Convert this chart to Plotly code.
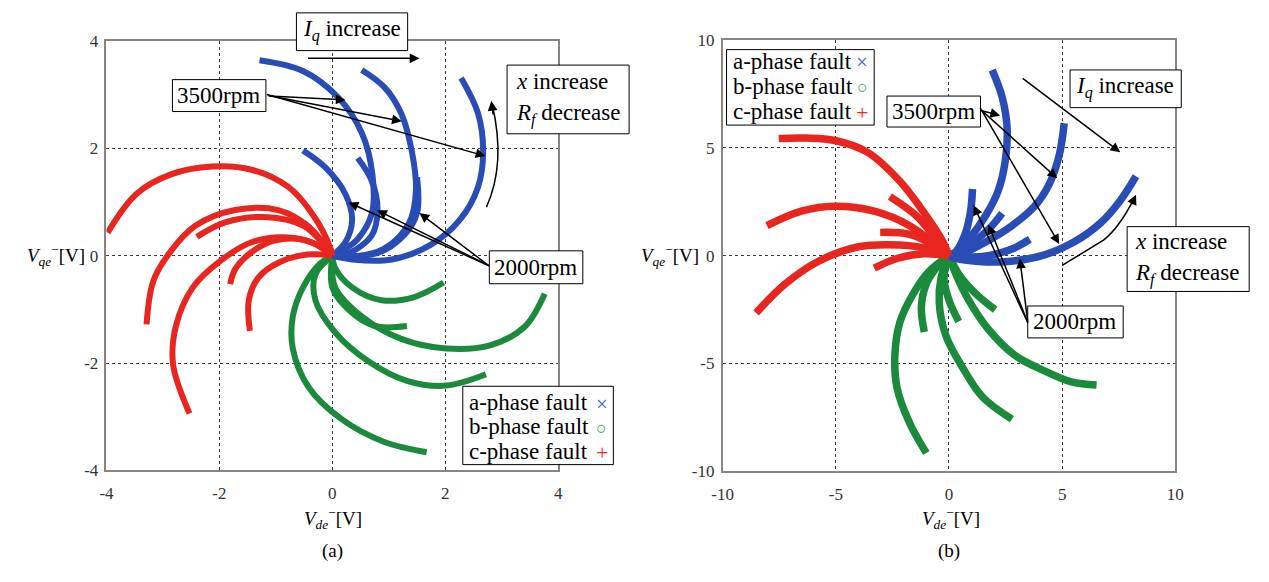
import plotly.graph_objects as go

W, H = 1269, 582

# ---------------- data ----------------
TICKS_L = [-4, -2, 0, 2, 4]
TICKS_R = [-10, -5, 0, 5, 10]
TICKTEXT_L = ["-4", "-2", "0", "2", "4"]
TICKTEXT_R = ["-10", "-5", "0", "5", "10"]
LEGEND_LABELS = ["a-phase fault", "b-phase fault", "c-phase fault"]
LEGEND_GLYPHS = ["×", "○", "+"]

# panel (a): a-phase fault (blue)
A_L_X = [
    [0, 0.23, 0.45, 0.70, 0.71, 0.52, 0.10, -0.52, -1.29],
    [0, 0.35, 0.92, 1.36, 1.48, 1.41, 1.22, 0.92, 0.52],
    [0, 0.35, 1.05, 1.74, 2.26, 2.58, 2.67, 2.58, 2.28],
    [0, 0.23, 0.35, 0.23, -0.12, -0.52],
    [0, 0.30, 0.70, 0.80, 0.70, 0.45],
    [0, 0.80, 1.27, 1.50, 1.50],
]
A_L_Y = [
    [0, 0.13, 0.31, 0.79, 1.51, 2.29, 2.95, 3.44, 3.64],
    [0, -0.02, 0.13, 0.61, 1.21, 1.93, 2.65, 3.14, 3.46],
    [0, -0.07, -0.07, 0.20, 0.67, 1.28, 1.93, 2.65, 3.31],
    [0, 0.25, 0.67, 1.15, 1.64, 1.96],
    [0, 0.05, 0.38, 0.85, 1.39, 1.82],
    [0, 0.05, 0.38, 0.80, 1.46],
]
# panel (a): b-phase fault (green)
B_L_X = [
    [0, -0.24, -0.52, -0.70, -0.70, -0.42, 0.17, 0.92, 1.67],
    [0, -0.30, -0.30, 0.05, 0.63, 1.32, 2.02, 2.72],
    [0, 0.05, 0.52, 1.22, 2.02, 2.79, 3.41, 3.76],
    [0, 0.00, 0.28, 0.75, 1.32],
    [0, 0.05, 0.35, 0.87, 1.45, 1.97],
]
B_L_Y = [
    [0, -0.17, -0.59, -1.13, -1.73, -2.45, -3.05, -3.47, -3.66],
    [0, -0.35, -0.83, -1.43, -1.96, -2.33, -2.42, -2.21],
    [0, -0.59, -1.13, -1.55, -1.73, -1.67, -1.32, -0.71],
    [0, -0.59, -1.00, -1.31, -1.31],
    [0, -0.23, -0.59, -0.83, -0.77, -0.50],
]
# panel (a): c-phase fault (red)
C_L_X = [
    [0, -0.03, -0.33, -0.78, -1.43, -2.13, -2.87, -3.47, -3.98],
    [0, -0.44, -0.96, -1.72, -2.42, -2.87, -3.17, -3.29],
    [0, -0.26, -0.78, -1.43, -2.00, -2.47, -2.77, -2.82, -2.53],
    [0, -0.44, -0.91, -1.31, -1.48, -1.46],
    [0, -0.45, -1.03, -1.45, -1.72, -1.81],
    [0, -0.50, -1.20, -1.90, -2.40],
]
C_L_Y = [
    [0, 0.13, 0.74, 1.28, 1.60, 1.66, 1.51, 1.15, 0.43],
    [0, 0.56, 0.85, 0.85, 0.56, 0.07, -0.47, -1.28],
    [0, 0.20, 0.34, 0.25, -0.11, -0.59, -1.31, -2.03, -2.94],
    [0, 0.02, -0.11, -0.41, -0.83, -1.40],
    [0, 0.28, 0.28, 0.05, -0.25, -0.53],
    [0, 0.55, 0.72, 0.62, 0.35],
]

# panel (b): a-phase fault (blue)
A_R_X = [
    [0, 0.17, 0.87, 1.61, 2.17, 2.48, 2.57, 2.35, 1.91],
    [0, 0.43, 1.61, 2.78, 3.78, 4.43, 4.87, 5.09],
    [0, 0.30, 1.30, 2.61, 4.22, 5.52, 6.70, 7.57, 8.26],
    [0, 0.30, 0.74, 0.96, 1.04],
    [0, 0.87, 1.74, 2.35],
    [0, 1.48, 2.78, 3.57],
]
A_R_Y = [
    [0, 0.04, 0.76, 1.84, 3.00, 4.35, 5.87, 7.35, 8.61],
    [0, 0.04, 0.63, 1.39, 2.29, 3.32, 4.66, 6.14],
    [0, -0.13, -0.27, -0.27, 0.04, 0.63, 1.52, 2.56, 3.68],
    [0, 0.18, 1.08, 2.11, 3.09],
    [0, 0.49, 1.21, 1.97],
    [0, -0.04, 0.31, 0.76],
]
# panel (b): b-phase fault (green)
B_R_X = [
    [0, -0.87, -1.57, -2.17, -2.39, -2.30, -1.74, -1.00],
    [0, -0.35, -0.43, -0.13, 0.61, 1.48, 2.78],
    [0, 0.30, 0.87, 1.74, 2.91, 4.22, 5.40, 6.52],
    [0, -0.50, -1.00, -1.22, -1.09],
    [0, -0.22, 0.00, 0.43],
    [0, 0.43, 1.17, 2.04],
]
B_R_Y = [
    [0, -0.72, -1.75, -3.09, -4.62, -6.10, -7.76, -9.15],
    [0, -1.03, -2.20, -3.72, -5.20, -6.55, -7.58],
    [0, -0.85, -2.06, -3.41, -4.62, -5.34, -5.85, -6.00],
    [0, -0.50, -1.30, -2.38, -3.54],
    [0, -1.03, -2.06, -3.05],
    [0, -0.85, -1.75, -2.51],
]
# panel (b): c-phase fault (red)
C_R_X = [
    [0, -0.26, -1.00, -2.17, -3.61, -5.04, -6.30, -7.52],
    [0, -0.57, -1.74, -3.30, -5.04, -6.52, -8.04],
    [0, -0.70, -2.17, -4.04, -5.78, -7.22, -8.52],
    [0, -0.57, -1.43, -2.61],
    [0, -0.60, -1.74, -3.04],
    [0, -1.13, -2.30, -3.30],
]
C_R_Y = [
    [0, 0.63, 1.84, 3.45, 4.80, 5.34, 5.45, 5.43],
    [0, 0.49, 1.39, 2.06, 2.29, 2.06, 1.39],
    [0, 0.27, 0.49, 0.40, -0.27, -1.30, -2.65],
    [0, 0.76, 1.84, 2.74],
    [0, 0.45, 0.99, 1.08],
    [0, 0.09, -0.13, -0.58],
]

BLUE, GREEN, RED = "#2a4cb6", "#1c8a3c", "#e8261f"
GLYPH_COLORS = ["#3a64d0", "#22b04a", "#ee2a24"]
GLYPH_SIZES = [21, 18, 22]
SERIF = "Liberation Serif"

fig = go.Figure()


def add_curves(xs, ys, color, width, xa, ya):
    for cx, cy in zip(xs, ys):
        fig.add_trace(go.Scatter(
            x=cx, y=cy, mode="lines", xaxis=xa, yaxis=ya,
            line=dict(color=color, width=width, shape="spline", smoothing=1.0),
            showlegend=False, hoverinfo="skip"))


add_curves(B_L_X, B_L_Y, GREEN, 6, "x", "y")
add_curves(A_L_X, A_L_Y, BLUE, 6, "x", "y")
add_curves(C_L_X, C_L_Y, RED, 6, "x", "y")
add_curves(B_R_X, B_R_Y, GREEN, 7.5, "x2", "y2")
add_curves(A_R_X, A_R_Y, BLUE, 7.5, "x2", "y2")
add_curves(C_R_X, C_R_Y, RED, 7.5, "x2", "y2")


def axis(domain, rng, tv, tt, anchor, standoff):
    return dict(domain=domain, range=rng, tickvals=tv, ticktext=tt, anchor=anchor,
                showgrid=True, gridcolor="#3a3a3a", griddash="dot", gridwidth=1.3,
                zeroline=False, showline=True, mirror=True, linecolor="#8a8480",
                linewidth=1.5, ticks="", fixedrange=True, ticklabelstandoff=standoff,
                tickfont=dict(family=SERIF, size=17, color="#333"))


fig.update_layout(
    width=W, height=H, margin=dict(l=0, r=0, t=0, b=0),
    paper_bgcolor="white", plot_bgcolor="white", showlegend=False,
    xaxis=axis([97 / W, 556 / W], [-4, 4], TICKS_L, TICKTEXT_L, "y", 6),
    yaxis=axis([1 - 477 / H, 1 - 33 / H], [-4, 4], TICKS_L, TICKTEXT_L, "x", 3),
    xaxis2=axis([723 / W, 1183 / W], [-10, 10], TICKS_R, TICKTEXT_R, "y2", 6),
    yaxis2=axis([1 - 478 / H, 1 - 32 / H], [-10, 10], TICKS_R, TICKTEXT_R, "x2", 3),
)

ann = []
shapes = []


def P(px, py):
    return px / W, 1 - py / H


def text(px, py, t, size=23, xanchor="center", color="black"):
    x, y = P(px, py)
    ann.append(dict(x=x, y=y, xref="paper", yref="paper", text=t, showarrow=False,
                    xanchor=xanchor, yanchor="middle",
                    font=dict(family=SERIF, size=size, color=color)))


def rect(x0, y0, x1, y1):
    a, b = P(x0, y0)
    c, d = P(x1, y1)
    shapes.append(dict(type="rect", xref="paper", yref="paper", x0=a, y0=b, x1=c, y1=d,
                       line=dict(color="black", width=1), fillcolor="white", layer="above"))


def arrow(tx, ty, hx, hy):
    x, y = P(hx, hy)
    ann.append(dict(x=x, y=y, xref="paper", yref="paper", text="", showarrow=True,
                    ax=tx - hx, ay=ty - hy, axref="pixel", ayref="pixel",
                    arrowhead=2, arrowsize=1.3, arrowwidth=1.5, arrowcolor="black",
                    standoff=0, startstandoff=0))


def curve(pts):
    s = ""
    for cmd, coords in pts:
        s += cmd
        for (a, b) in coords:
            x, y = P(a, b)
            s += f" {x:.5f},{y:.5f}"
        s += " "
    shapes.append(dict(type="path", xref="paper", yref="paper", path=s.strip(),
                       line=dict(color="black", width=1.5), layer="above"))


def legend(x0, y0, x1, y1, rows_y, text_x, glyph_x):
    rect(x0, y0, x1, y1)
    for lab, gl, col, gs, ry in zip(LEGEND_LABELS, LEGEND_GLYPHS, GLYPH_COLORS,
                                    GLYPH_SIZES, rows_y):
        text(text_x, ry, lab, size=23, xanchor="left")
        text(glyph_x, ry + 1, gl, size=gs, color=col)


def vlabel(px, py, sub, xanchor="center"):
    text(px, py, f"<i>V</i><sub><i>{sub}</i></sub><sup>−</sup>[V]", size=19,
         xanchor=xanchor)


IQ = "<i>I</i><sub><i>q</i></sub> increase"
XI = "<i>x</i> increase"
RD = "<i>R</i><sub><i>f</i></sub> decrease"

# ---- panel (a) annotations ----
rect(290, 4, 403, 43)
text(346, 22, IQ)
arrow(302, 51, 415, 51)
rect(164, 73, 259, 106)
text(211, 89, "3500rpm")
arrow(262, 90, 340, 94)
arrow(262, 90, 397, 116)
arrow(262, 90, 482, 152)
rect(504, 58, 628, 129)
text(511, 75, XI, xanchor="left")
text(511, 109, RD, xanchor="left")
curve([("M", [(483, 205)]), ("Q", [(503, 160), (489, 99)])])
arrow(490, 110, 488, 95)
rect(486, 250, 581, 284)
text(533, 267, "2000rpm")
arrow(485, 264, 343, 200)
arrow(485, 264, 372, 208)
arrow(485, 264, 415, 211)
legend(459, 390, 612, 471, [407, 432, 457], 463, 600)
vlabel(14, 255, "qe", xanchor="left")
vlabel(327, 527, "de")
text(327, 560, "(a)", size=19)

# ---- panel (b) annotations ----
legend(727, 42, 877, 120, [54, 80, 106], 732, 865)
rect(890, 90, 985, 122)
text(937, 106, "3500rpm")
arrow(985, 105, 1005, 110)
arrow(985, 105, 1063, 175)
arrow(985, 105, 1065, 243)
rect(1076, 63, 1189, 102)
text(1132, 81, IQ)
arrow(1028, 73, 1127, 148)
curve([("M", [(1068, 265)]), ("L", [(1110, 239)]), ("Q", [(1126, 226), (1141, 196)])])
arrow(1138, 203, 1143, 192)
rect(1134, 225, 1258, 292)
text(1140, 240, XI, xanchor="left")
text(1140, 274, RD, xanchor="left")
rect(1033, 307, 1130, 340)
text(1081, 323, "2000rpm")
arrow(1033, 322, 978, 203)
arrow(1033, 322, 993, 223)
arrow(1033, 322, 1025, 258)
vlabel(638, 255, "qe", xanchor="left")
vlabel(955, 527, "de")
text(953, 560, "(b)", size=19)

fig.update_layout(annotations=ann, shapes=shapes)
fig.write_html("out.html")
